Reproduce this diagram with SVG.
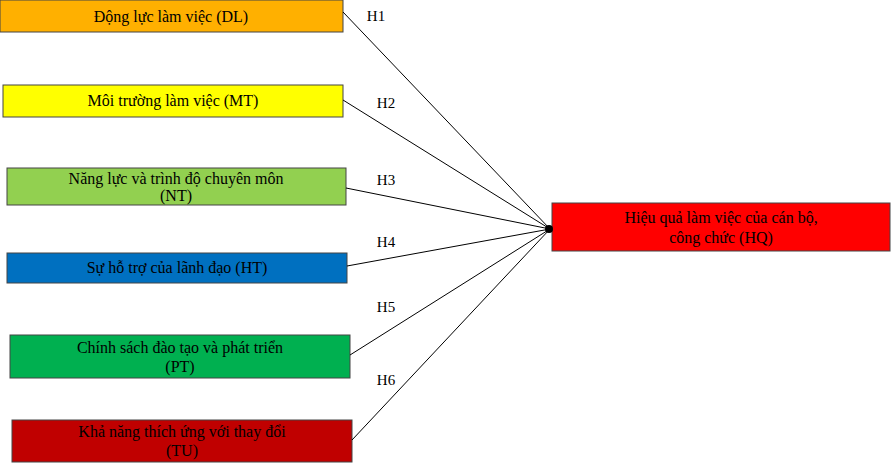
<svg xmlns="http://www.w3.org/2000/svg" width="893" height="470" viewBox="0 0 893 470">
<style>
.b{stroke:#444;stroke-width:1}
.t{font-family:"Liberation Serif",serif;font-size:16px;fill:#000;text-anchor:middle}
.h{font-family:"Liberation Serif",serif;font-size:15px;fill:#000;text-anchor:middle}
.c{stroke:#000;stroke-width:1;fill:none}
</style>
<rect width="893" height="470" fill="#fff"/>
<g id="DL"><rect class="b" x="0" y="0" width="343" height="32" fill="#FFB000"/><text class="t" x="171" y="22">Động lực làm việc (DL)</text></g>
<g id="MT"><rect class="b" x="3" y="85" width="340" height="32" fill="#FFFF00"/><text class="t" x="173" y="106">Môi trường làm việc (MT)</text></g>
<g id="NT"><rect class="b" x="7" y="168" width="339" height="37" fill="#92D050"/><text class="t" x="176" y="184">Năng lực và trình độ chuyên môn</text><text class="t" x="176" y="201">(NT)</text></g>
<g id="HT"><rect class="b" x="7" y="253" width="340" height="30" fill="#0070C0"/><text class="t" x="177" y="273">Sự hỗ trợ của lãnh đạo (HT)</text></g>
<g id="PT"><rect class="b" x="10" y="335" width="340" height="43" fill="#00B050"/><text class="t" x="180" y="353">Chính sách đào tạo và phát triển</text><text class="t" x="180" y="372">(PT)</text></g>
<g id="TU"><rect class="b" x="12" y="420" width="340" height="42" fill="#C00000"/><text class="t" x="182" y="437">Khả năng thích ứng với thay đổi</text><text class="t" x="182" y="456">(TU)</text></g>
<g id="HQ"><rect class="b" x="552" y="203" width="338" height="48" fill="#FF0000"/><text class="t" x="721" y="223">Hiệu quả làm việc của cán bộ,</text><text class="t" x="721" y="243">công chức  (HQ)</text></g>
<g id="connectors">
<line class="c" x1="343" y1="12" x2="550" y2="229"/>
<line class="c" x1="343" y1="100" x2="550" y2="229"/>
<line class="c" x1="346" y1="188" x2="550" y2="229"/>
<line class="c" x1="347" y1="266" x2="550" y2="229"/>
<line class="c" x1="350" y1="355" x2="550" y2="229"/>
<line class="c" x1="352" y1="440" x2="550" y2="229"/>
<circle cx="549" cy="229" r="4" fill="#000"/>
<text class="h" x="376" y="21">H1</text>
<text class="h" x="386" y="108">H2</text>
<text class="h" x="386" y="185">H3</text>
<text class="h" x="386" y="247">H4</text>
<text class="h" x="386" y="312">H5</text>
<text class="h" x="386" y="385">H6</text>
</g>
</svg>
